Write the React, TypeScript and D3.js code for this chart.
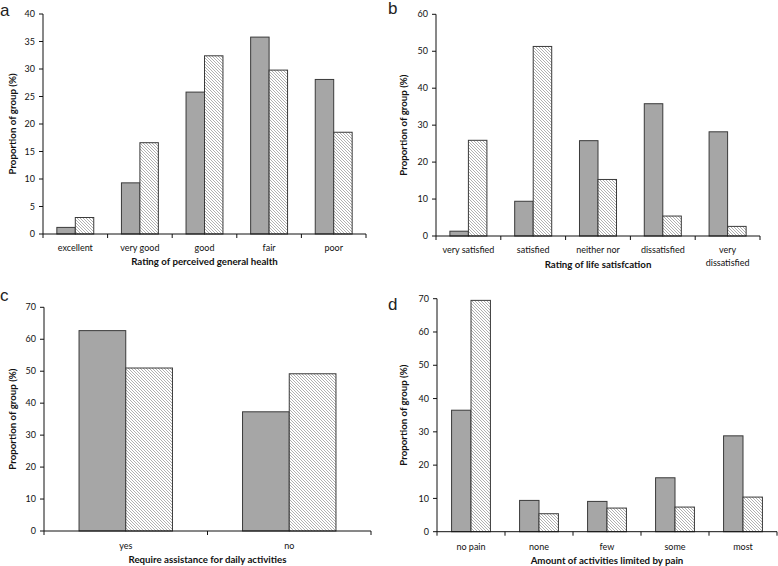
import React from "react";
import * as d3 from "d3";

const catsA = ["excellent", "very good", "good", "fair", "poor"];
const grayA = [1.2, 9.3, 25.8, 35.8, 28.1];
const hatchA = [3.0, 16.6, 32.4, 29.8, 18.5];

const catsB = ["very satisfied", "satisfied", "neither nor", "dissatisfied", "very\ndissatisfied"];
const grayB = [1.3, 9.4, 25.8, 35.8, 28.2];
const hatchB = [25.9, 51.3, 15.3, 5.4, 2.6];

const catsC = ["yes", "no"];
const grayC = [62.7, 37.3];
const hatchC = [51.0, 49.2];

const catsD = ["no pain", "none", "few", "some", "most"];
const grayD = [36.5, 9.4, 9.1, 16.2, 28.8];
const hatchD = [69.5, 5.4, 7.1, 7.4, 10.4];

const titles = [
  "Rating of perceived general health",
  "Rating of life satisfcation",
  "Require assistance for daily activities",
  "Amount of activities limited by pain",
];
const letters = ["a", "b", "c", "d"];
const yMaxes = [40, 60, 70, 70];
const ySteps = [5, 10, 10, 10];

const FONT = "Lato, 'Open Sans', sans-serif";

type PanelProps = {
  cats: string[];
  gray: number[];
  hatch: number[];
  yMax: number;
  step: number;
  x0: number;
  x1: number;
  yTop: number;
  yBot: number;
  title: string;
  letter: string;
  letterPos: [number, number];
  yTitleX: number;
  labelY: number;
  titleY: number;
};

function Panel(p: PanelProps) {
  const x = d3.scaleBand<string>().domain(p.cats).range([p.x0, p.x1]).padding(0);
  const y = d3.scaleLinear().domain([0, p.yMax]).range([p.yBot, p.yTop]);
  const bw = x.bandwidth() / 3.5;
  const ticks = d3.range(0, p.yMax + p.step / 2, p.step);
  const boundaries = p.cats.map((c) => x(c) as number).concat([p.x1]);
  const stroke = "#3a3a3a";
  return (
    <g>
      <text x={p.letterPos[0]} y={p.letterPos[1]} fontFamily="'Liberation Sans', Arial, sans-serif" fontSize={17} fill="#222">
        {p.letter}
      </text>
      {p.cats.map((c, i) => {
        const cx = (x(c) as number) + x.bandwidth() / 2;
        return (
          <g key={c}>
            <rect x={cx - bw} y={y(p.gray[i])} width={bw} height={p.yBot - y(p.gray[i])} fill="#a6a6a6" stroke={stroke} strokeWidth={1} />
            <rect x={cx} y={y(p.hatch[i])} width={bw} height={p.yBot - y(p.hatch[i])} fill="url(#hatch)" stroke={stroke} strokeWidth={1} />
          </g>
        );
      })}
      <line x1={p.x0} x2={p.x0} y1={p.yTop} y2={p.yBot} stroke="#111" strokeWidth={1} />
      <line x1={p.x0} x2={p.x1} y1={p.yBot} y2={p.yBot} stroke="#111" strokeWidth={1} />
      {ticks.map((t) => (
        <g key={t}>
          <line x1={p.x0 - 4} x2={p.x0} y1={y(t)} y2={y(t)} stroke="#111" strokeWidth={1} />
          <text x={p.x0 - 8} y={y(t)} dy="0.35em" textAnchor="end" fontFamily={FONT} fontSize={9} fill="#111">
            {t}
          </text>
        </g>
      ))}
      {boundaries.map((b, i) => (
        <line key={i} x1={b} x2={b} y1={p.yBot} y2={p.yBot + 4} stroke="#111" strokeWidth={1} />
      ))}
      {p.cats.map((c) => {
        const cx = (x(c) as number) + x.bandwidth() / 2;
        const lines = c.split("\n");
        return (
          <text key={c} x={cx} y={p.labelY} textAnchor="middle" fontFamily={FONT} fontSize={9} fill="#111">
            {lines.map((l, j) => (
              <tspan key={j} x={cx} dy={j === 0 ? 0 : 13}>
                {l}
              </tspan>
            ))}
          </text>
        );
      })}
      <text x={(p.x0 + p.x1) / 2} y={p.titleY} textAnchor="middle" fontFamily={FONT} fontWeight="bold" fontSize={9.7} fill="#111">
        {p.title}
      </text>
      <text
        transform={`translate(${p.yTitleX},${(p.yTop + p.yBot) / 2}) rotate(-90)`}
        textAnchor="middle"
        fontFamily={FONT}
        fontWeight="bold"
        fontSize={9.7}
        fill="#111"
      >
        Proportion of group (%)
      </text>
    </g>
  );
}

export default function App() {
  return (
    <svg width={778} height={566} style={{ position: "absolute", left: 0, top: 0, background: "#fff" }}>
      <defs>
        <pattern id="hatch" patternUnits="userSpaceOnUse" width={3} height={3}>
          <rect width={3} height={3} fill="#fff" />
          <path d="M-1,-1 L4,4 M2,-1 L4,1 M-1,2 L1,4" stroke="#9c9c9c" strokeWidth={0.8} />
        </pattern>
      </defs>
      <Panel cats={catsA} gray={grayA} hatch={hatchA} yMax={yMaxes[0]} step={ySteps[0]} x0={43} x1={366} yTop={14} yBot={234}
        title={titles[0]} letter={letters[0]} letterPos={[0, 16]} yTitleX={16} labelY={251} titleY={265} />
      <Panel cats={catsB} gray={grayB} hatch={hatchB} yMax={yMaxes[1]} step={ySteps[1]} x0={436} x1={760} yTop={14.3} yBot={236}
        title={titles[1]} letter={letters[1]} letterPos={[388, 14]} yTitleX={407} labelY={253} titleY={268} />
      <Panel cats={catsC} gray={grayC} hatch={hatchC} yMax={yMaxes[2]} step={ySteps[2]} x0={44} x1={371} yTop={307.3} yBot={531}
        title={titles[2]} letter={letters[2]} letterPos={[0, 301]} yTitleX={16} labelY={549} titleY={563} />
      <Panel cats={catsD} gray={grayD} hatch={hatchD} yMax={yMaxes[3]} step={ySteps[3]} x0={437} x1={777} yTop={298.7} yBot={531.7}
        title={titles[3]} letter={letters[3]} letterPos={[388, 310]} yTitleX={407} labelY={550} titleY={564} />
    </svg>
  );
}
